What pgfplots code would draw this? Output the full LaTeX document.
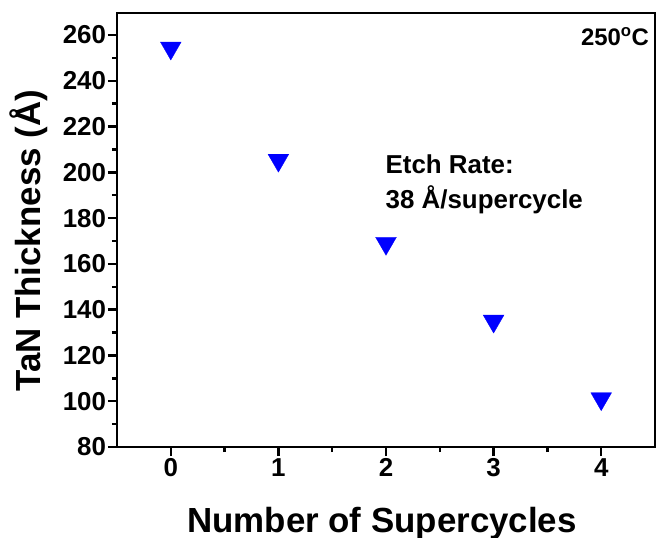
\documentclass[border=0pt]{standalone}
\usepackage{pgfplots}
\pgfplotsset{compat=1.18}
\usepackage{fontspec}
\setmainfont{Liberation Sans}
\definecolor{pblue}{RGB}{0,0,255}
\begin{document}
\begin{tikzpicture}
\useasboundingbox (-117bp,-91bp) rectangle (539bp,447bp);
\begin{axis}[
  at={(0,0)}, anchor=south west,
  scale only axis,
  width=538bp, height=434bp,
  xmin=-0.5, xmax=4.5,
  ymin=80, ymax=269.6,
  xtick={0,1,2,3,4},
  ytick={80,100,...,260},
  minor x tick num=1,
  minor y tick num=1,
  tick pos=left,
  tick align=outside,
  major tick length=9bp,
  minor tick length=5bp,
  axis line style={line width=2.6bp},
  every tick/.style={line width=2.4bp, black},
  tick label style={font=\fontsize{26}{26}\selectfont\bfseries},
  /pgf/number format/assume math mode=true,
  xticklabel style={yshift=1bp},
  yticklabel style={xshift=1.5bp},
  xlabel={Number of Supercycles},
  ylabel={TaN Thickness (Å)},
  label style={font=\fontsize{35}{35}\selectfont\bfseries},
  xlabel style={at={(axis description cs:0.4926,-0.196)}, anchor=base, inner sep=0pt},
  ylabel style={at={(axis description cs:-0.128,0.475)}, anchor=south, inner sep=0pt},
  clip=false,
]
\addplot[only marks, mark=triangle*, mark size=12bp,
  mark options={rotate=180, fill=pblue, draw=pblue, line width=0.3bp}]
  coordinates {(0,254.3) (1,205.3) (2,169) (3,135) (4,101.1)};
\node[anchor=base east, inner sep=0pt, font=\fontsize{24}{24}\selectfont\bfseries]
  at (axis cs:4.445,255.6) {250\textsuperscript{o}C};
\node[anchor=base west, inner sep=0pt, font=\fontsize{26}{26}\selectfont\bfseries]
  at (axis cs:1.995,199.7) {Etch Rate:};
\node[anchor=base west, inner sep=0pt, font=\fontsize{26}{26}\selectfont\bfseries]
  at (axis cs:1.995,184.4) {38 Å/supercycle};
\end{axis}
\end{tikzpicture}
\end{document}
